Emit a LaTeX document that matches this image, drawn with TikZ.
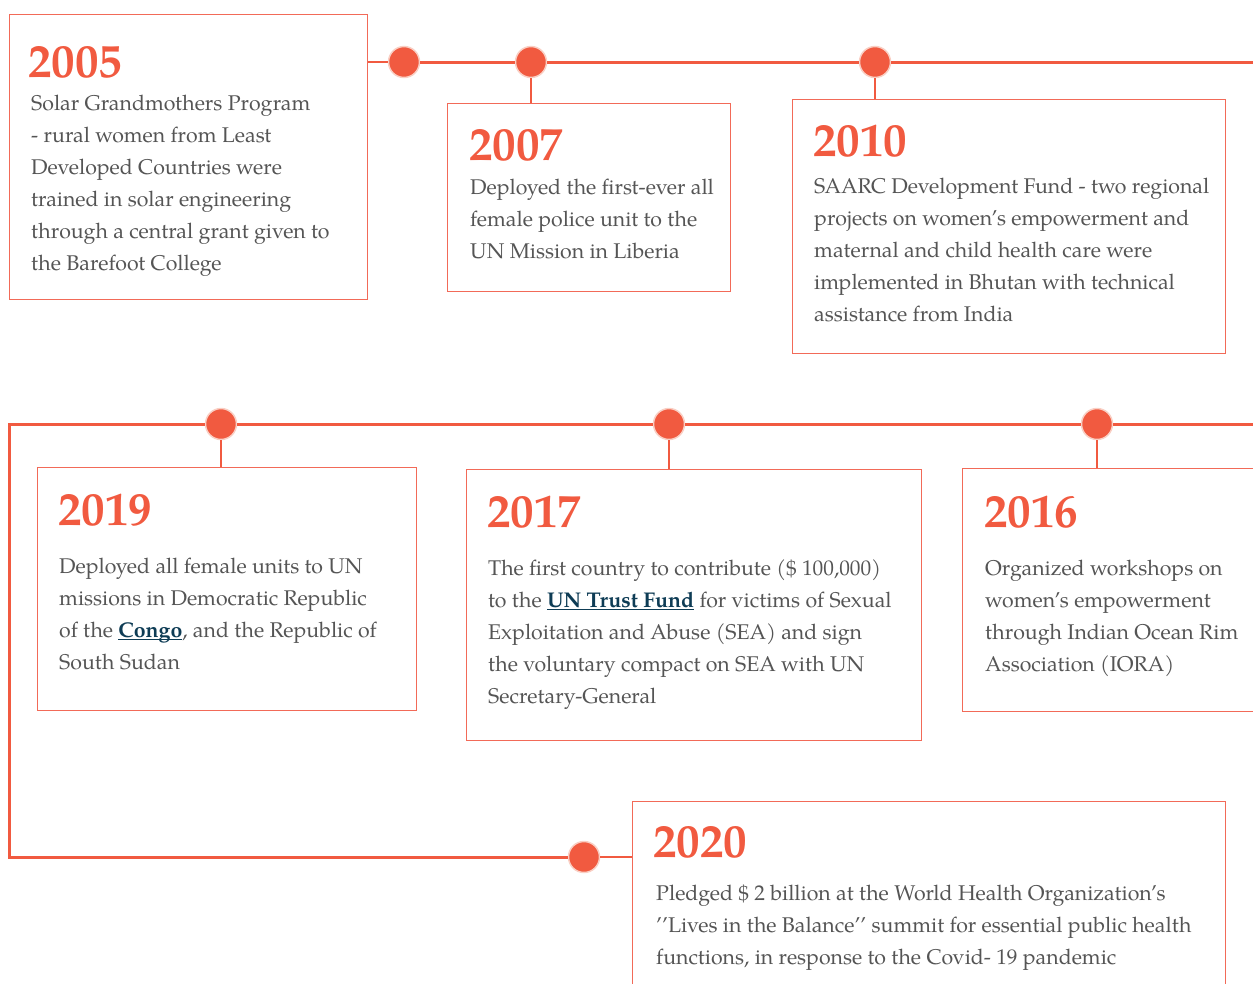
\documentclass[tikz,border=0pt]{standalone}
\usepackage{fontspec}
\setmainfont{texgyrepagella}[Extension=.otf,UprightFont=*-regular,BoldFont=*-bold,ItalicFont=*-italic,BoldItalicFont=*-bolditalic]
\definecolor{accent}{HTML}{F15A40}
\definecolor{boxc}{HTML}{F26A58}
\definecolor{ringc}{HTML}{F9CFC4}
\definecolor{txt}{HTML}{555555}
\definecolor{linkc}{HTML}{0E3C55}
\newcommand\ulink[1]{{\color{linkc}\bfseries\setbox0\hbox{#1}\rlap{\rule[-2.5pt]{\wd0}{1pt}}\box0}}
\tikzset{
  yr/.style={font=\fontsize{47}{47}\selectfont\bfseries, text=accent, anchor=base west, inner sep=0pt},
  body/.style={font=\fontsize{21.3}{32}\selectfont, text=txt, anchor=base west, inner sep=0pt},
  dotnode/.style={circle, fill=accent, draw=ringc, line width=1.5pt, minimum size=31pt, inner sep=0pt},
  boxnode/.style={draw=boxc, line width=1.3pt, anchor=north west, inner sep=0pt},
  thickline/.style={draw=accent, line width=3pt},
  thinline/.style={draw=accent, line width=1.5pt},
}
\begin{document}
\begin{tikzpicture}[x=1pt,y=-1pt]
\useasboundingbox (0,0) rectangle (1253,983);
% boxes
\node[boxnode, minimum width=358pt, minimum height=285pt] (b2005) at (9,14) {};
\node[boxnode, minimum width=283pt, minimum height=188pt] (b2007) at (447,103) {};
\node[boxnode, minimum width=433pt, minimum height=254pt] (b2010) at (792,99) {};
\node[boxnode, minimum width=379pt, minimum height=243pt] (b2019) at (37,467) {};
\node[boxnode, minimum width=455pt, minimum height=271pt] (b2017) at (466,469) {};
\node[boxnode, minimum width=308pt, minimum height=243pt] (b2016) at (962,468) {};
\node[boxnode, minimum width=593pt, minimum height=199pt] (b2020) at (632,801) {};
% dots
\node[dotnode] (d2005) at (404,62) {};
\node[dotnode] (d2007) at (531,62) {};
\node[dotnode] (d2010) at (875,62) {};
\node[dotnode] (d2019) at (221,424) {};
\node[dotnode] (d2017) at (669,424) {};
\node[dotnode] (d2016) at (1097,424) {};
\node[dotnode] (d2020) at (584,857) {};
\coordinate (topEnd) at (1262,62);
\coordinate (rowR) at (1262,424);
\coordinate (rowL) at (9,424);
\coordinate (botL) at (9,857);
% timeline
\draw[thinline] (b2005.north east |- d2005) -- (d2005);
\draw[thickline] (d2005) -- (d2007);
\draw[thickline] (d2007) -- (d2010);
\draw[thickline] (d2010) -- (topEnd);
\draw[thickline] (rowR) -- (d2016);
\draw[thickline] (d2016) -- (d2017);
\draw[thickline] (d2017) -- (d2019);
\draw[thickline] (d2019) -- (rowL) -- (botL) -- (d2020);
\draw[thinline] (d2020) -- (b2020.west |- d2020);
% stems
\draw[thinline] (d2007) -- (d2007 |- b2007.north);
\draw[thinline] (d2010) -- (d2010 |- b2010.north);
\draw[thinline] (d2019) -- (d2019 |- b2019.north);
\draw[thinline] (d2017) -- (d2017 |- b2017.north);
\draw[thinline] (d2016) -- (d2016 |- b2016.north);
% texts
\node[yr] (y2005) at (28,77) {2005};
\node[body] (t2005) at (31,110) {\parbox[t]{400pt}{\raggedright Solar Grandmothers Program\\- rural women from Least\\Developed Countries were\\trained in solar engineering\\through a central grant given to\\the Barefoot College}};
\node[yr] (y2007) at (469,160) {2007};
\node[body] (t2007) at (470,194) {\parbox[t]{400pt}{\raggedright Deployed the first-ever all\\female police unit to the\\UN Mission in Liberia}};
\node[yr] (y2010) at (813,156) {2010};
\node[body] (t2010) at (814,193) {\parbox[t]{500pt}{\raggedright SAARC Development Fund - two regional\\projects on women’s empowerment and\\maternal and child health care were\\implemented in Bhutan with technical\\assistance from India}};
\node[yr] (y2019) at (58,525) {2019};
\node[body] (t2019) at (59,573) {\parbox[t]{400pt}{\raggedright Deployed all female units to UN\\missions in Democratic Republic\\of the \ulink{Congo}, and the Republic of\\South Sudan}};
\node[yr] (y2017) at (487,527) {2017};
\node[body] (t2017) at (488,575) {\parbox[t]{500pt}{\raggedright The first country to contribute (\$ 100,000)\\to the \ulink{UN Trust Fund} for victims of Sexual\\Exploitation and Abuse (SEA) and sign\\the voluntary compact on SEA with UN\\Secretary-General}};
\node[yr] (y2016) at (984,527) {2016};
\node[body] (t2016) at (985,575) {\parbox[t]{400pt}{\raggedright Organized workshops on\\women’s empowerment\\through Indian Ocean Rim\\Association (IORA)}};
\node[yr] (y2020) at (653,857) {2020};
\node[body] (t2020) at (656,900) {\parbox[t]{700pt}{\raggedright Pledged \$ 2 billion at the World Health Organization’s\\’’Lives in the Balance’’ summit for essential public health\\functions, in response to the Covid- 19 pandemic}};
\end{tikzpicture}
\end{document}
